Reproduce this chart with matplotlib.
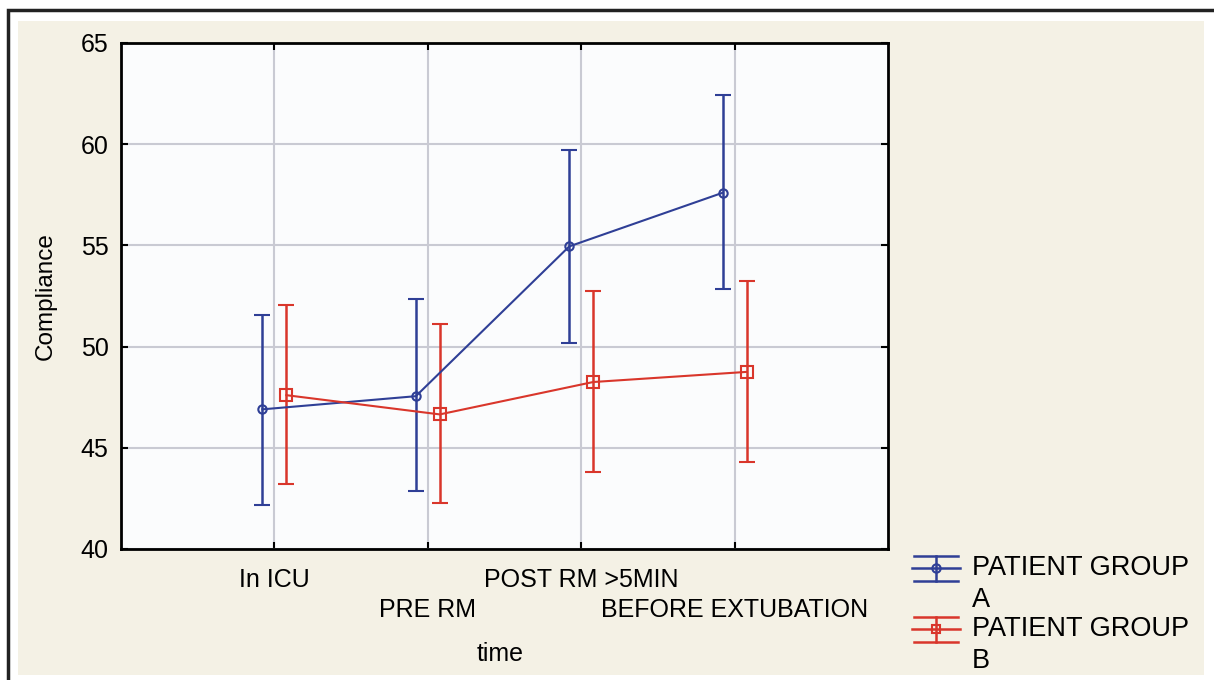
import matplotlib.pyplot as plt
from matplotlib.patches import Rectangle
from matplotlib.lines import Line2D
from matplotlib.legend_handler import HandlerBase
import numpy as np

plt.rcParams['font.family'] = ['Liberation Sans', 'DejaVu Sans']

times = ['In ICU', 'PRE RM', 'POST RM >5MIN', 'BEFORE EXTUBATION']
group_a_mean = [46.9, 47.55, 54.95, 57.6]
group_a_low = [42.15, 42.85, 50.2, 52.85]
group_a_high = [51.55, 52.35, 59.7, 62.45]
group_b_mean = [47.6, 46.65, 48.25, 48.75]
group_b_low = [43.2, 42.25, 43.8, 44.3]
group_b_high = [52.05, 51.1, 52.75, 53.25]

blue = '#2f3f96'
red = '#d9362b'


class ErrHandler(HandlerBase):
    # legend key: line with a capped vertical bar, drawn level with the first text line
    def create_artists(self, legend, orig_handle, xdescent, ydescent, width, height, fontsize, trans):
        c = orig_handle.get_color()
        mk = orig_handle.get_marker()
        x0, x1 = -xdescent, -xdescent + width
        xm = (x0 + x1) / 2
        yc = -ydescent + height / 2 + 0.62 * fontsize
        h = 9
        arts = [
            Line2D([x0, x1], [yc, yc], color=c, lw=1.8),
            Line2D([xm, xm], [yc - h, yc + h], color=c, lw=1.8),
            Line2D([x0 + 1.5, x1 - 1.5], [yc + h, yc + h], color=c, lw=1.8),
            Line2D([x0 + 1.5, x1 - 1.5], [yc - h, yc - h], color=c, lw=1.8),
            Line2D([xm], [yc], color=c, marker=mk, markersize=6, markerfacecolor='none', mew=1.5),
        ]
        for a in arts:
            a.set_transform(trans)
        return arts


fig = plt.figure(figsize=(12.14, 6.8), dpi=100)
fig.patch.set_facecolor('white')

# outer frame and beige panel
fig.patches.append(Rectangle((8 / 1214, -0.01), 1.1, 1 - 10 / 680 + 0.01, transform=fig.transFigure,
                             fill=False, edgecolor='#222222', linewidth=2.5, zorder=-10))
fig.patches.append(Rectangle((18 / 1214, 5 / 680), (1204 - 18) / 1214, (675 - 21) / 680,
                             transform=fig.transFigure, facecolor='#f4f1e5', edgecolor='none', zorder=-10))

ax = fig.add_axes([121 / 1214, 131 / 680, 767 / 1214, 506 / 680])
ax.set_zorder(5)
ax.set_facecolor('#fbfcfd')

x = np.arange(len(times))
off = 0.078

a_err = [np.array(group_a_mean) - np.array(group_a_low), np.array(group_a_high) - np.array(group_a_mean)]
b_err = [np.array(group_b_mean) - np.array(group_b_low), np.array(group_b_high) - np.array(group_b_mean)]

ax.errorbar(x - off, group_a_mean, yerr=a_err, color=blue, marker='o', markersize=6,
            markerfacecolor='none', markeredgewidth=1.5, linewidth=1.5, capsize=6,
            capthick=1.8, elinewidth=1.8, zorder=3)
ax.errorbar(x + off, group_b_mean, yerr=b_err, color=red, marker='s', markersize=8,
            markerfacecolor='none', markeredgewidth=1.5, linewidth=1.5, capsize=6,
            capthick=1.8, elinewidth=1.8, zorder=3)

ax.set_xlim(-1, 4)
ax.set_ylim(40, 65)
ax.set_yticks([40, 45, 50, 55, 60, 65])
ax.set_xticks(x)
ax.set_xticklabels(times, fontsize=18)
ax.tick_params(axis='y', labelsize=18, direction='in', length=5, width=1.5, right=True, pad=9)
ax.tick_params(axis='x', direction='in', length=5, width=1.5, top=True, pad=13.5)
# staggered category labels: every second one sits on a lower row
for i, tick in enumerate(ax.xaxis.get_major_ticks()):
    if i % 2 == 1:
        tick.set_pad(35)
ax.grid(True, color='#c9cad3', linewidth=1.5, zorder=0)
ax.set_axisbelow(True)
for s in ax.spines.values():
    s.set_linewidth(2)
    s.set_color('black')

ax.set_ylabel('Compliance', fontsize=17.5, labelpad=17)
ax.set_xlabel('time', fontsize=18)
ax.xaxis.set_label_coords(0.494, -0.183)

handles = [Line2D([], [], color=blue, marker='o'), Line2D([], [], color=red, marker='s')]
leg = fig.legend(handles, ['PATIENT GROUP\nA', 'PATIENT GROUP\nB'], handler_map={Line2D: ErrHandler()},
                 loc='upper left', bbox_to_anchor=(888 / 1214, 1 - 531 / 680), frameon=False,
                 fontsize=19.5, handlelength=1.75, handleheight=1.0, handletextpad=0.45,
                 labelspacing=0.1)
for t in leg.get_texts():
    t.set_linespacing(1.3)

fig.savefig('out.png', dpi=100)
